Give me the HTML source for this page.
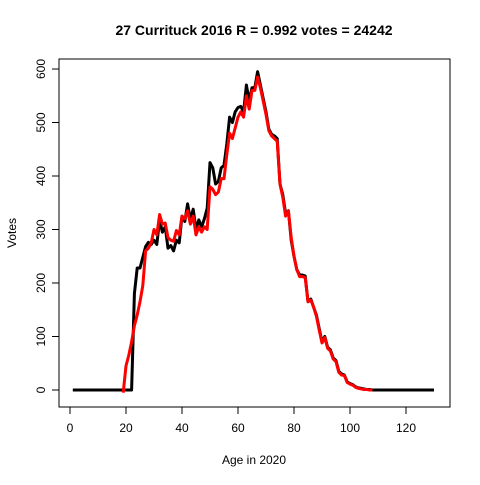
<!DOCTYPE html>
<html><head><meta charset="utf-8"><style>
body{margin:0;background:#fff}
svg{font-family:"Liberation Sans",Arial,sans-serif}
</style></head><body>
<svg id="chart" width="480" height="480" viewBox="0 0 480 480">
<text x="254" y="35" text-anchor="middle" font-weight="bold" font-size="14">27 Currituck 2016 R = 0.992 votes = 24242</text>
<rect x="59" y="59" width="391" height="348" fill="none" stroke="#000"/>
<g id="xaxis"></g>
<g id="yaxis"></g>
<text x="254" y="464" text-anchor="middle" font-size="12">Age in 2020</text>
<text x="0" y="0" transform="translate(16,233) rotate(-90)" text-anchor="middle" font-size="12">Votes</text>
<g id="series"></g>
</svg>
<script>
const xTicks=[0,20,40,60,80,100,120];
const yTicks=[0,100,200,300,400,500,600];
const blackAges=[];for(let a=1;a<=130;a++)blackAges.push(a);
const blackVotes=[0,0,0,0,0,0,0,0,0,0,0,0,0,0,0,0,0,0,0,0,0,0,180,228,228,248,268,276,272,280,272,318,295,305,265,270,260,280,275,325,315,348,318,338,300,318,305,320,340,425,415,385,390,415,420,460,510,500,520,528,530,520,570,540,565,565,595,570,545,520,488,478,475,470,385,365,330,335,280,250,225,215,215,213,165,170,155,140,115,90,100,80,75,60,55,35,30,28,15,12,10,6,4,3,2,1,1,0,0,0,0,0,0,0,0,0,0,0,0,0,0,0,0,0,0,0,0,0,0,0];
const redAges=[];for(let a=19;a<=108;a++)redAges.push(a);
const redVotes=[-5,45,65,90,120,140,165,195,260,265,275,300,290,328,310,312,285,280,278,298,290,325,320,335,310,325,290,305,295,305,300,380,375,365,370,395,395,440,480,470,490,510,520,510,550,525,560,560,585,565,540,515,485,475,470,465,385,360,325,335,285,250,225,212,212,210,165,168,155,138,112,88,98,78,73,58,53,33,28,27,14,11,9,5,3,2,1,1,0,0];
const X=a=>70+a*2.8, Y=v=>390-v*0.535;
const ns="http://www.w3.org/2000/svg";
const xa=document.getElementById('xaxis'), ya=document.getElementById('yaxis'), sg=document.getElementById('series');
function mk(t,attrs,p){const e=document.createElementNS(ns,t);for(const k in attrs)e.setAttribute(k,attrs[k]);p.appendChild(e);return e;}
mk('line',{x1:X(xTicks[0]),x2:X(xTicks[xTicks.length-1]),y1:407,y2:407,stroke:'#000'},xa);
xTicks.forEach(t=>{
  const l=mk('line',{x1:X(t),x2:X(t),y1:407,y2:414,stroke:'#000'},xa);
  
  
  const tx=mk('text',{x:X(t),y:432,'text-anchor':'middle','font-size':12},xa);tx.textContent=t;
  
  
});
mk('line',{x1:59,x2:59,y1:Y(yTicks[0]),y2:Y(yTicks[yTicks.length-1]),stroke:'#000'},ya);
yTicks.forEach(t=>{
  const l=mk('line',{x1:52,x2:59,y1:Y(t),y2:Y(t),stroke:'#000'},ya);
  
  
  const tx=mk('text',{x:0,y:0,transform:`translate(45,${Y(t)}) rotate(-90)`,'text-anchor':'middle','font-size':12},ya);tx.textContent=t;
  
  
});
function line(ages,vals,color){
  return mk('polyline',{points:ages.map((a,i)=>X(a)+','+Y(vals[i])).join(' '),fill:'none',stroke:color,'stroke-width':3,'stroke-linejoin':'round'},sg);
}
const b=line(blackAges,blackVotes,'#000');


const r=line(redAges,redVotes,'#ff0000');


</script>
</body></html>
